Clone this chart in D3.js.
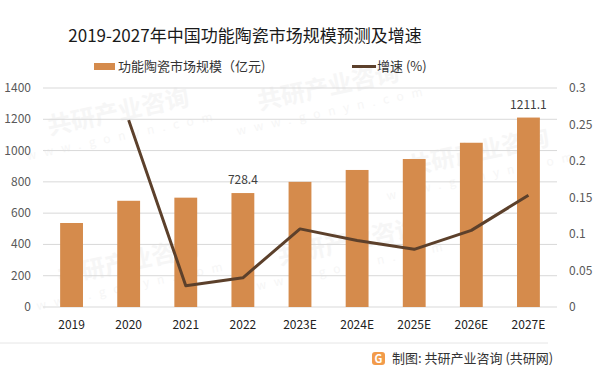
<html>
<head>
<meta charset="utf-8">
<title>2019-2027年中国功能陶瓷市场规模预测及增速</title>
<style>
  body {margin: 0; background: #fff;}
  svg {display: block; font-family: "Noto Sans CJK SC", "Noto Sans", sans-serif;}
</style>
</head>
<body>
<svg></svg>
<script src="https://d3js.org/d3.v7.min.js"></script>
<script>
const years = ["2019", "2020", "2021", "2022", "2023E", "2024E", "2025E", "2026E", "2027E"];
const marketSize = [537, 679, 699, 728.4, 800, 876, 946, 1050, 1211.1];
const growth = [null, 0.256, 0.029, 0.040, 0.107, 0.091, 0.079, 0.105, 0.153];
const leftTicks = [0, 200, 400, 600, 800, 1000, 1200, 1400];
const rightTicks = [0, 0.05, 0.1, 0.15, 0.2, 0.25, 0.3];
const labelled = ["2022", "2027E"];

const width = 600, height = 375;
const barColor = "#d58b4c", lineColor = "#5c402b";

const svg = d3.select("svg").attr("width", width).attr("height", height);

// faint watermarks
const wm = svg.append("g").attr("fill", "#f6f6f6").attr("font-weight", "bold");
[[120, 120], [330, 95], [480, 160], [130, 270], [350, 250]].forEach(p => {
  const g = wm.append("g").attr("transform", `translate(${p[0]},${p[1]}) rotate(-12)`);
  g.append("text").attr("font-size", 24).attr("text-anchor", "middle").text("共研产业咨询");
  g.append("text").attr("y", 20).attr("font-size", 12).attr("letter-spacing", 8)
    .attr("text-anchor", "middle").attr("font-weight", "normal").text("www.gonyn.com");
});

const x = d3.scaleBand().domain(years).range([43, 557]).paddingInner(0.6).paddingOuter(0.3);
const y = d3.scaleLinear().domain([0, 1400]).range([307, 88]);
const y2 = d3.scaleLinear().domain([0, 0.3]).range([307, 88]);

// gridlines
svg.append("g").selectAll("line").data(leftTicks).join("line")
  .attr("x1", 43).attr("x2", 557)
  .attr("y1", d => y(d)).attr("y2", d => y(d))
  .attr("stroke", "#d9d9d9").attr("stroke-width", 1);

// left axis labels
svg.append("g").attr("font-size", 12).attr("fill", "#595959").attr("text-anchor", "end")
  .selectAll("text").data(leftTicks).join("text")
  .attr("x", 31).attr("y", d => y(d) + 4).text(d => d);

// right axis labels
svg.append("g").attr("font-size", 12).attr("fill", "#595959")
  .selectAll("text").data(rightTicks).join("text")
  .attr("x", 569).attr("y", d => y2(d) + 4).text(d => d3.format("~g")(d));

// bars
svg.append("g").selectAll("rect").data(years).join("rect")
  .attr("x", d => x(d)).attr("width", x.bandwidth())
  .attr("y", (d, i) => y(marketSize[i])).attr("height", (d, i) => y(0) - y(marketSize[i]))
  .attr("fill", barColor);

// data labels
svg.append("g").attr("font-size", 12).attr("fill", "#404040").attr("text-anchor", "middle")
  .selectAll("text").data(years.filter(d => labelled.includes(d))).join("text")
  .attr("x", d => x(d) + x.bandwidth() / 2)
  .attr("y", d => y(marketSize[years.indexOf(d)]) - 9)
  .text(d => marketSize[years.indexOf(d)]);

// growth line
const line = d3.line()
  .defined(d => d.v !== null)
  .x(d => x(d.k) + x.bandwidth() / 2)
  .y(d => y2(d.v));
svg.append("path")
  .datum(years.map((k, i) => ({k: k, v: growth[i]})))
  .attr("d", line).attr("fill", "none")
  .attr("stroke", lineColor).attr("stroke-width", 3).attr("stroke-linejoin", "round");

// x labels
svg.append("g").attr("font-size", 12).attr("fill", "#222").attr("text-anchor", "middle")
  .selectAll("text").data(years).join("text")
  .attr("x", d => x(d) + x.bandwidth() / 2).attr("y", 329).text(d => d);

// separator
svg.append("line").attr("x1", 0).attr("x2", 548).attr("y1", 343).attr("y2", 343)
  .attr("stroke", "#e6e6e6");

// title
svg.append("text").attr("x", 245).attr("y", 42).attr("text-anchor", "middle")
  .attr("font-size", 17).attr("fill", "#1a1a1a").text("2019-2027年中国功能陶瓷市场规模预测及增速");

// legend
svg.append("rect").attr("x", 94).attr("y", 63).attr("width", 21).attr("height", 7).attr("fill", barColor);
svg.append("text").attr("x", 118).attr("y", 71).attr("font-size", 13).attr("fill", "#333")
  .text("功能陶瓷市场规模（亿元)");
svg.append("line").attr("x1", 352).attr("x2", 376).attr("y1", 66.5).attr("y2", 66.5)
  .attr("stroke", lineColor).attr("stroke-width", 3);
svg.append("text").attr("x", 377).attr("y", 71).attr("font-size", 13).attr("fill", "#333")
  .text("增速 (%)");

// footer
const logo = svg.append("g").attr("transform", "translate(372,352)");
logo.append("rect").attr("width", 13).attr("height", 13).attr("rx", 3).attr("fill", "#f29b4a");
logo.append("text").attr("x", 6.5).attr("y", 11).attr("text-anchor", "middle")
  .attr("font-size", 11).attr("font-weight", "bold").attr("fill", "#fff").text("G");
svg.append("text").attr("x", 392).attr("y", 363).attr("font-size", 13).attr("fill", "#333")
  .text("制图: 共研产业咨询 (共研网)");
</script>
</body>
</html>
